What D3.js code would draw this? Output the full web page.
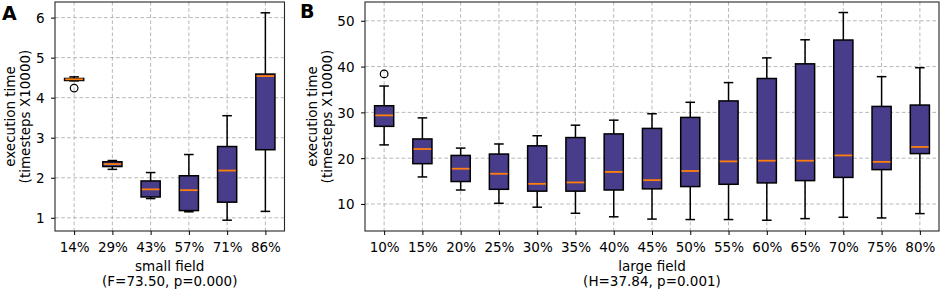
<!DOCTYPE html>
<html>
<head>
<meta charset="utf-8">
<script src="https://cdn.jsdelivr.net/npm/d3@7/dist/d3.min.js"></script>
<style>
  html, body { margin: 0; padding: 0; background: #fff; }
  svg { display: block; }
  text { font-family: "DejaVu Sans", sans-serif; fill: #000; }
</style>
</head>
<body>
<svg id="chart" width="941" height="293"></svg>
<script>
// ---------- DATA ----------
const smallCategories = ["14%", "29%", "43%", "57%", "71%", "86%"];
const smallWhiskerLow  = [4.42, 2.21, 1.48, 1.15, 0.94, 1.16];
const smallQ1          = [4.43, 2.28, 1.52, 1.18, 1.39, 2.70];
const smallMedian      = [4.46, 2.34, 1.71, 1.69, 2.18, 4.54];
const smallQ3          = [4.48, 2.40, 1.92, 2.05, 2.78, 4.59];
const smallWhiskerHigh = [4.52, 2.43, 2.13, 2.58, 3.55, 6.12];
const smallOutliers    = [[4.24], [], [], [], [], []];
const smallYTicks      = [1, 2, 3, 4, 5, 6];

const largeCategories = ["10%", "15%", "20%", "25%", "30%", "35%", "40%", "45%", "50%", "55%", "60%", "65%", "70%", "75%", "80%"];
const largeWhiskerLow  = [22.9, 15.9, 13.05, 10.15, 9.3, 7.97, 7.2, 6.7, 6.6, 6.6, 6.45, 6.8, 7.1, 6.95, 7.9];
const largeQ1          = [26.95, 18.8, 14.9, 13.2, 12.8, 12.8, 13.05, 13.3, 13.8, 14.3, 14.6, 15.1, 15.8, 17.5, 21.0];
const largeMedian      = [29.35, 22.0, 17.7, 16.6, 14.4, 14.7, 17.0, 15.2, 17.2, 19.3, 19.45, 19.45, 20.6, 19.2, 22.45];
const largeQ3          = [31.45, 24.2, 20.6, 20.9, 22.7, 24.5, 25.3, 26.5, 28.9, 32.5, 37.4, 40.6, 45.8, 31.3, 31.6];
const largeWhiskerHigh = [35.75, 28.8, 22.2, 23.1, 24.9, 27.2, 28.3, 29.7, 32.2, 36.5, 41.9, 45.85, 51.8, 37.8, 39.75];
const largeOutliers    = [[38.4], [], [], [], [], [], [], [], [], [], [], [], [], [], []];
const largeYTicks      = [10, 20, 30, 40, 50];

const panels = [
  { letter: "A", letterX: 2, letterY: 19.5,
    cats: smallCategories, lo: smallWhiskerLow, q1: smallQ1, med: smallMedian, q3: smallQ3, hi: smallWhiskerHigh, out: smallOutliers,
    yTicks: smallYTicks, yDomain: [0.67, 6.39],
    left: 55, right: 284.5, ylabX: [15, 30],
    xlab: ["small field", "(F=73.50, p=0.000)"] },
  { letter: "B", letterX: 300, letterY: 18,
    cats: largeCategories, lo: largeWhiskerLow, q1: largeQ1, med: largeMedian, q3: largeQ3, hi: largeWhiskerHigh, out: largeOutliers,
    yTicks: largeYTicks, yDomain: [4.1, 54.1],
    left: 365, right: 939, ylabX: [316.5, 332],
    xlab: ["large field", "(H=37.84, p=0.001)"] }
];

const plotTop = 2, plotBottom = 231;
const FS = "13.5px";
const svg = d3.select("#chart");

panels.forEach(p => {
  const n = p.cats.length;
  const x = d3.scaleLinear().domain([-0.5, n - 0.5]).range([p.left, p.right]);
  const y = d3.scaleLinear().domain(p.yDomain).range([plotBottom, plotTop]);
  const g = svg.append("g");
  const idx = d3.range(n);
  const bw = x(0.25) - x(0);   // half box width (box width 0.5)
  const cw = x(0.125) - x(0);  // half cap width

  // grid
  g.append("g").selectAll("line").data(p.yTicks).join("line")
    .attr("x1", p.left).attr("x2", p.right)
    .attr("y1", d => y(d)).attr("y2", d => y(d))
    .attr("stroke", "#b0b0b0").attr("stroke-width", 0.9).attr("stroke-dasharray", "3.7,2.4");
  g.append("g").selectAll("line").data(idx).join("line")
    .attr("x1", d => x(d)).attr("x2", d => x(d))
    .attr("y1", plotTop).attr("y2", plotBottom)
    .attr("stroke", "#b0b0b0").attr("stroke-width", 0.9).attr("stroke-dasharray", "3.7,2.4");

  // whiskers
  const wg = g.append("g").attr("stroke", "#000").attr("stroke-width", 1.5);
  wg.selectAll(".wl").data(idx).join("line").attr("class", "wl")
    .attr("x1", d => x(d)).attr("x2", d => x(d))
    .attr("y1", d => y(p.lo[d])).attr("y2", d => y(p.q1[d]));
  wg.selectAll(".wh").data(idx).join("line").attr("class", "wh")
    .attr("x1", d => x(d)).attr("x2", d => x(d))
    .attr("y1", d => y(p.hi[d])).attr("y2", d => y(p.q3[d]));
  wg.selectAll(".cl").data(idx).join("line").attr("class", "cl")
    .attr("x1", d => x(d) - cw).attr("x2", d => x(d) + cw)
    .attr("y1", d => y(p.lo[d])).attr("y2", d => y(p.lo[d]));
  wg.selectAll(".ch").data(idx).join("line").attr("class", "ch")
    .attr("x1", d => x(d) - cw).attr("x2", d => x(d) + cw)
    .attr("y1", d => y(p.hi[d])).attr("y2", d => y(p.hi[d]));

  // boxes
  g.append("g").selectAll("rect").data(idx).join("rect")
    .attr("x", d => x(d) - bw).attr("width", 2 * bw)
    .attr("y", d => y(p.q3[d])).attr("height", d => y(p.q1[d]) - y(p.q3[d]))
    .attr("fill", "#483d8b").attr("stroke", "#000").attr("stroke-width", 1.5);

  // medians
  g.append("g").selectAll("line").data(idx).join("line")
    .attr("x1", d => x(d) - bw + 0.75).attr("x2", d => x(d) + bw - 0.75)
    .attr("y1", d => y(p.med[d])).attr("y2", d => y(p.med[d]))
    .attr("stroke", "#ff7f0e").attr("stroke-width", 1.8);

  // outliers
  const outs = idx.flatMap(i => p.out[i].map(v => ({ i, v })));
  g.append("g").selectAll("circle").data(outs).join("circle")
    .attr("cx", d => x(d.i)).attr("cy", d => y(d.v)).attr("r", 3.8)
    .attr("fill", "none").attr("stroke", "#000").attr("stroke-width", 1.2);

  // spines
  g.append("rect").attr("x", p.left).attr("y", plotTop)
    .attr("width", p.right - p.left).attr("height", plotBottom - plotTop)
    .attr("fill", "none").attr("stroke", "#262626").attr("stroke-width", 1.1);

  // axes
  const xAxis = d3.axisBottom(x).tickValues(idx).tickFormat(i => p.cats[i]).tickSize(4).tickPadding(4);
  const xg = g.append("g").attr("transform", `translate(0,${plotBottom})`).call(xAxis);
  xg.select(".domain").remove();
  xg.selectAll(".tick line").attr("stroke", "#000").attr("stroke-width", 1);
  xg.selectAll(".tick text").attr("dy", null).attr("y", 20.8)
    .style("font-size", FS).style("font-family", "'DejaVu Sans', sans-serif").attr("fill", "#000");

  const yAxis = d3.axisLeft(y).tickValues(p.yTicks).tickFormat(d3.format("d")).tickSize(4).tickPadding(6.5);
  const yg = g.append("g").attr("transform", `translate(${p.left},0)`).call(yAxis);
  yg.select(".domain").remove();
  yg.selectAll(".tick line").attr("stroke", "#000").attr("stroke-width", 1);
  yg.selectAll(".tick text").attr("dy", "0.36em")
    .style("font-size", FS).style("font-family", "'DejaVu Sans', sans-serif").attr("fill", "#000");

  // y label (two lines)
  const cy = (plotTop + plotBottom) / 2;
  ["execution time", "(timesteps X10000)"].forEach((t, k) => {
    g.append("text").attr("transform", `translate(${p.ylabX[k]},${cy}) rotate(-90)`)
      .attr("text-anchor", "middle").style("font-size", FS).text(t);
  });

  // x label
  const cx = (p.left + p.right) / 2;
  g.append("text").attr("x", cx).attr("y", 270.8).attr("text-anchor", "middle").style("font-size", FS).text(p.xlab[0]);
  g.append("text").attr("x", cx).attr("y", 286.3).attr("text-anchor", "middle").style("font-size", FS).text(p.xlab[1]);

  // panel letter
  g.append("text").attr("x", p.letterX).attr("y", p.letterY)
    .style("font-size", "19px").style("font-weight", "bold").text(p.letter);
});
</script>
</body>
</html>
